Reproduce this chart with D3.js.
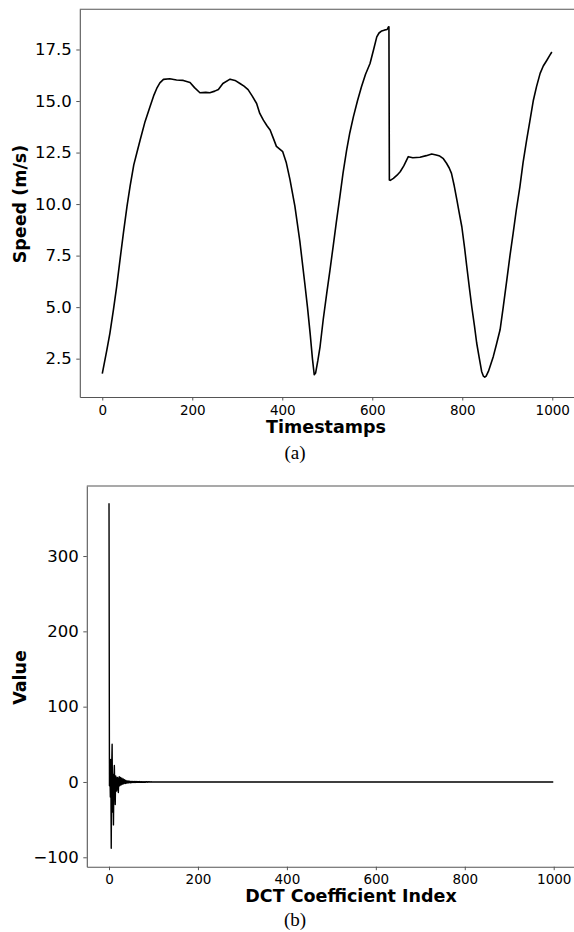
<!DOCTYPE html>
<html>
<head>
<meta charset="utf-8">
<script src="https://cdn.jsdelivr.net/npm/d3@7"></script>
<style>
  body { margin: 0; background: #fff; }
  svg { display: block; }
  .tick text { font-family: "DejaVu Sans", sans-serif; fill: #000; }
  .axis-label { font-family: "DejaVu Sans", sans-serif; font-weight: bold; font-size: 17.5px; }
  .caption { font-family: "Liberation Serif", "Times New Roman", serif; font-size: 19px; }
</style>
</head>
<body>
<div id="chart"></div>
<script>
// speed readings (a)
var timestamps = [0, 10, 17, 25, 32, 40, 47, 55, 62, 70, 77, 84, 95, 106, 115, 121, 128, 136, 150, 165,
  180, 195, 205, 217, 230, 239, 250, 258, 268, 284, 295, 306, 315, 324, 333, 343, 350, 358, 366, 373,
  380, 387, 395, 401, 409, 417, 428, 439, 450, 456, 462, 467, 471, 474, 479, 484, 491, 499, 506, 513,
  520, 528, 535, 543, 550, 558, 567, 576, 585, 595, 603, 610, 615, 621, 628, 633, 636, 637, 638, 640,
  647, 655, 662, 670, 680, 690, 706, 720, 732, 742, 750, 758, 765, 771, 776, 782, 788, 793, 799, 805,
  810, 816, 821, 827, 832, 838, 843, 847, 850, 853, 858, 863, 869, 876, 884, 891, 899, 906, 913, 920,
  928, 935, 943, 950, 958, 965, 973, 980, 988, 994, 999];
var speeds = [1.77, 2.9, 3.74, 4.9, 6.0, 7.4, 8.6, 9.9, 10.9, 11.9, 12.5, 13.1, 14.0, 14.72, 15.3, 15.61, 15.88, 16.05, 16.08, 16.02,
  16.0, 15.9, 15.65, 15.4, 15.42, 15.4, 15.48, 15.56, 15.85, 16.06, 16.0, 15.85, 15.72, 15.55, 15.25, 14.88, 14.4, 14.07, 13.8, 13.59,
  13.2, 12.8, 12.65, 12.54, 12.0, 11.2, 9.9, 8.2, 6.16, 5.0, 3.7, 2.5, 1.72, 1.8, 2.4, 3.09, 4.4, 5.7, 6.8, 7.94,
  9.1, 10.36, 11.5, 12.62, 13.45, 14.23, 15.0, 15.69, 16.3, 16.82, 17.5, 18.11, 18.3, 18.4, 18.45, 18.47, 18.6, 18.6, 11.17, 11.15,
  11.25, 11.4, 11.57, 11.85, 12.3, 12.25, 12.27, 12.35, 12.43, 12.38, 12.33, 12.2, 11.98, 11.75, 11.49, 10.9, 10.2, 9.6, 8.9, 7.9,
  6.97, 5.9, 5.03, 4.1, 3.26, 2.5, 1.88, 1.65, 1.6, 1.65, 1.88, 2.2, 2.61, 3.2, 3.9, 5.0, 6.32, 7.5, 8.58, 9.7,
  10.84, 12.0, 13.1, 14.0, 15.04, 15.7, 16.34, 16.7, 16.98, 17.2, 17.38];

var dctIndex = d3.range(0, 100).concat([120, 150, 200, 250, 300, 350, 400, 450, 500, 550, 600, 650, 700, 750, 800, 850, 900, 950, 999]);
var dctValues = [370, -5, 12, -20, 30, -88, 20, 50, -40, 10, -57, 5, 22, -10, -30, 8, 5, -12, 3, 6,
  -8, -14, 4, 7, -5, 2, 6, -4, -3, 5, -2, -3, 4, -2, -2, 3, -1, -2, 2, -1,
  -1.5, 1.5, -1, 1, -1, 1.2, -0.8, 0.9, -1, 0.7, -0.9, 0.8, -0.6, 0.7, -0.8, 0.6, -0.5, 0.7, -0.6, 0.5,
  -0.6, 0.5, -0.4, 0.6, -0.5, 0.4, -0.5, 0.4, -0.4, 0.5, -0.4, 0.3, -0.4, 0.4, -0.3, 0.3, -0.4, 0.3, -0.3, 0.3,
  -0.3, 0.2, -0.3, 0.3, -0.2, 0.2, -0.3, 0.2, -0.2, 0.2, -0.2, 0.2, -0.2, 0.1, -0.2, 0.2, -0.1, 0.1, -0.1, 0.1,
  0, 0, 0, 0, 0, 0, 0, 0, 0, 0, 0, 0, 0, 0, 0, 0, 0, 0, 0];

var speedTicks = [2.5, 5.0, 7.5, 10.0, 12.5, 15.0, 17.5];
var valueTicks = [-100, 0, 100, 200, 300];
var indexTicks = [0, 200, 400, 600, 800, 1000];

var svgWidth = 574;
var svgHeight = 932;

var svg = d3.select("#chart")
  .append("svg")
  .attr("width", svgWidth)
  .attr("height", svgHeight);

function drawPanel(opt) {
  var g = svg.append("g");

  var x = d3.scaleLinear()
    .domain([-49.95, 1048.95])
    .range([opt.left, opt.left + 1098.9 * opt.pxPerUnit]);

  var y = d3.scaleLinear()
    .domain(opt.yDomain)
    .range([opt.bottom, opt.top]);

  // data line first, axes on top
  var line = d3.line()
    .x(d => x(d[0]))
    .y(d => y(d[1]));

  g.append("path")
    .datum(opt.xs.map((v, i) => [v, opt.ys[i]]))
    .attr("d", line)
    .attr("fill", "none")
    .attr("stroke", "#000")
    .attr("stroke-width", opt.lineWidth)
    .attr("stroke-linejoin", "round");

  var bottomAxis = d3.axisBottom(x)
    .tickValues(indexTicks)
    .tickFormat(d3.format("d"))
    .tickSize(3.5)
    .tickPadding(4.5)
    .tickSizeOuter(0);

  var leftAxis = d3.axisLeft(y)
    .tickValues(opt.yTicks)
    .tickFormat(opt.yFormat)
    .tickSize(3.5)
    .tickPadding(4.5)
    .tickSizeOuter(0);

  var xAxis = g.append("g")
    .attr("transform", `translate(0, ${opt.bottom})`)
    .call(bottomAxis);
  xAxis.selectAll("text").style("font-size", "13.5px");

  var yAxis = g.append("g")
    .attr("transform", `translate(${x.range()[0]}, 0)`)
    .call(leftAxis);
  yAxis.selectAll("text").style("font-size", "16.5px");

  g.selectAll(".domain").attr("stroke", "#555").attr("stroke-width", 1.1);
  g.selectAll(".tick line").attr("stroke", "#555");

  // top spine
  g.append("line")
    .attr("x1", x.range()[0])
    .attr("x2", x.range()[1])
    .attr("y1", opt.top)
    .attr("y2", opt.top)
    .attr("stroke", "#555")
    .attr("stroke-width", 1.1);

  g.append("text")
    .attr("class", "axis-label")
    .attr("text-anchor", "middle")
    .attr("x", opt.xLabelX)
    .attr("y", opt.xLabelY)
    .text(opt.xLabel);

  g.append("text")
    .attr("class", "axis-label")
    .attr("text-anchor", "middle")
    .attr("transform", `translate(${opt.yLabelX}, ${opt.yLabelY}) rotate(-90)`)
    .attr("dy", "0.35em")
    .text(opt.yLabel);

  g.append("text")
    .attr("class", "caption")
    .attr("text-anchor", "middle")
    .attr("x", 295)
    .attr("y", opt.captionY)
    .text(opt.caption);
}

drawPanel({
  xs: timestamps, ys: speeds,
  left: 79.8, pxPerUnit: 0.45,
  top: 9.3, bottom: 397,
  yDomain: [0.64, 19.45],
  yTicks: speedTicks, yFormat: d3.format(".1f"),
  lineWidth: 1.6,
  xLabel: "Timestamps", xLabelX: 326, xLabelY: 433,
  yLabel: "Speed (m/s)", yLabelX: 20, yLabelY: 204,
  caption: "(a)", captionY: 459
});

drawPanel({
  xs: dctIndex, ys: dctValues,
  left: 86.8, pxPerUnit: 0.4447,
  top: 486, bottom: 866.7,
  yDomain: [-112.5, 393],
  yTicks: valueTicks, yFormat: d3.format("d"),
  lineWidth: 1.4,
  xLabel: "DCT Coefficient Index", xLabelX: 351, xLabelY: 902,
  yLabel: "Value", yLabelX: 20, yLabelY: 677.5,
  caption: "(b)", captionY: 926
});
</script>
</body>
</html>
